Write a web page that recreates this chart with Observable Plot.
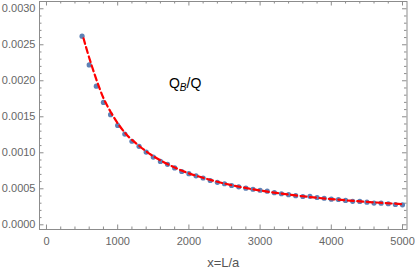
<!DOCTYPE html>
<html>
<head>
<meta charset="utf-8">
<script src="https://cdn.jsdelivr.net/npm/d3@7"></script>
<script src="https://cdn.jsdelivr.net/npm/@observablehq/plot@0.6"></script>
<style>
  html, body { margin: 0; padding: 0; background: #fff; }
  #chart svg { display: block; }
</style>
</head>
<body>
<div id="chart"></div>
<script>
// Sample points (x = L/a, y = Q_B/Q)
const pointX = [500,600,700,800,900,1000,1100,1200,1300,1400,1500,1600,1700,1800,1900,2000,2100,2200,2300,2400,2500,2600,2700,2800,2900,3000,3100,3200,3300,3400,3500,3600,3700,3800,3900,4000,4100,4200,4300,4400,4500,4600,4700,4800,4900,5000];
const pointY = [0.00262,0.00222,0.001925,0.00170,0.00153,0.00138,0.00126,0.00116,0.00109,0.00101,0.00094,0.00088,0.00084,0.00079,0.00074,0.00071,0.00068,0.00065,0.000615,0.00059,0.00057,0.000546,0.000528,0.000508,0.000494,0.00048,0.000467,0.000446,0.000431,0.000418,0.000405,0.000393,0.000395,0.000379,0.000369,0.000356,0.000351,0.000338,0.000326,0.000324,0.000314,0.000302,0.0003,0.000292,0.000282,0.000278];

// Fitted curve (red dashed)
const fitX = [520,600,700,800,900,1000,1100,1200,1400,1600,1800,2000,2250,2500,2750,3000,3250,3500,3750,4000,4250,4500,4750,5000];
const fitY = [0.00259,0.00232,0.00202,0.00176,0.00157,0.00141,0.00128,0.00118,0.00102,0.000895,0.000795,0.000715,0.000638,0.000573,0.00052,0.000477,0.00044,0.000408,0.00038,0.000357,0.000336,0.000318,0.000302,0.000287];

// Ticks
const xMajor = [0,1000,2000,3000,4000,5000];
const xMinor = [200,400,600,800,1200,1400,1600,1800,2200,2400,2600,2800,3200,3400,3600,3800,4200,4400,4600,4800];
const yMajor = [0,0.0005,0.001,0.0015,0.002,0.0025,0.003];
const yMinor = [0.0001,0.0002,0.0003,0.0004,0.0006,0.0007,0.0008,0.0009,0.0011,0.0012,0.0013,0.0014,0.0016,0.0017,0.0018,0.0019,0.0021,0.0022,0.0023,0.0024,0.0026,0.0027,0.0028,0.0029];

const labelText = "QB/Q";
const labelPos = [{x: 1720, y: 0.00196}];
const xLabel = "x=L/a";

const points = pointX.map((x, i) => ({x, y: pointY[i]}));
const fit = fitX.map((x, i) => ({x, y: fitY[i]}));

const W = 415, H = 272;
const mL = 39, mR = 8.5, mT = 1, mB = 43;
const innerW = W - mL - mR, innerH = H - mT - mB;
const frameColor = "#8c8c8c";
const textColor = "#666";

const plot = Plot.plot({
  width: W, height: H,
  marginLeft: mL, marginRight: mR, marginTop: mT, marginBottom: mB,
  style: {fontFamily: "'Liberation Sans', Arial, sans-serif", fontSize: "11px", background: "#fff"},
  x: {domain: [-98, 5063]},
  y: {domain: [-0.0000653, 0.003101]},
  marks: [
    Plot.tickX(xMajor, {x: d => d, stroke: frameColor, insetTop: innerH - 4.5}),
    Plot.tickX(xMinor, {x: d => d, stroke: frameColor, insetTop: innerH - 2.5}),
    Plot.tickX(xMajor, {x: d => d, stroke: frameColor, insetBottom: innerH - 4.5}),
    Plot.tickX(xMinor, {x: d => d, stroke: frameColor, insetBottom: innerH - 2.5}),
    Plot.tickY(yMajor, {y: d => d, stroke: frameColor, insetRight: innerW - 4.5}),
    Plot.tickY(yMinor, {y: d => d, stroke: frameColor, insetRight: innerW - 2.5}),
    Plot.tickY(yMajor, {y: d => d, stroke: frameColor, insetLeft: innerW - 4.5}),
    Plot.tickY(yMinor, {y: d => d, stroke: frameColor, insetLeft: innerW - 2.5}),
    Plot.frame({stroke: frameColor, strokeWidth: 1}),
    Plot.axisX({ticks: xMajor, tickSize: 0, tickPadding: 8, tickFormat: d => String(d), color: textColor,
      label: xLabel, labelAnchor: "center", labelArrow: "none", labelOffset: 37, fontSize: 11}),
    Plot.axisY({ticks: yMajor, tickSize: 0, tickPadding: 4, tickFormat: d3.format(".4f"), color: textColor,
      label: null, fontSize: 11}),
    Plot.dot(points, {x: "x", y: "y", r: 2.6, fill: "#5e81b5", stroke: "none"}),
    Plot.line(fit, {x: "x", y: "y", stroke: "#ff0000", strokeWidth: 2.2, strokeDasharray: "6,3.5", curve: "natural"}),
    Plot.text(labelPos, {x: "x", y: "y", text: () => labelText, textAnchor: "start", fill: "#000", fontSize: 14, className: "qlabel"})
  ]
});

const t = plot.querySelector(".qlabel text");
if (t) {
  t.textContent = "";
  const ns = "http://www.w3.org/2000/svg";
  const a = document.createElementNS(ns, "tspan"); a.textContent = "Q";
  const b = document.createElementNS(ns, "tspan"); b.textContent = "B";
  b.setAttribute("font-size", "10"); b.setAttribute("font-style", "italic"); b.setAttribute("dy", "3");
  const c = document.createElementNS(ns, "tspan"); c.textContent = "/Q"; c.setAttribute("dy", "-3");
  t.append(a, b, c);
}
plot.querySelectorAll("[aria-label='x-axis label'] text, [aria-label='x-axis label']").forEach(el => {
  el.setAttribute("font-size", "13");
  el.setAttribute("fill", "#555");
});
document.getElementById("chart").append(plot);
</script>
</body>
</html>
